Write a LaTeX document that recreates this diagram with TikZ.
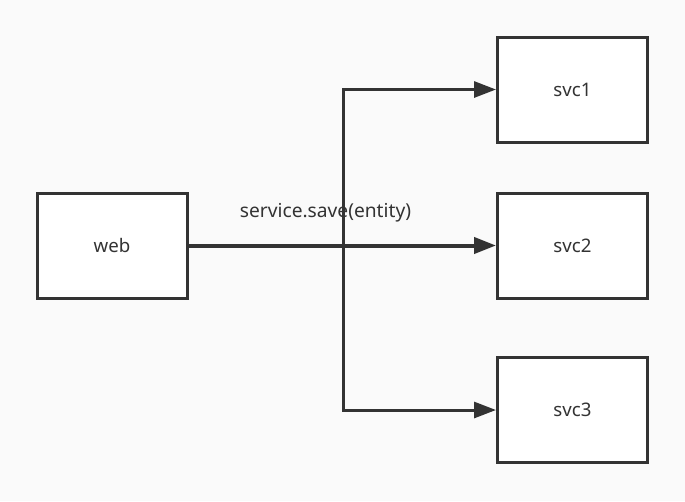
\documentclass[tikz,border=0pt]{standalone}
\usepackage{fontspec}
\setmainfont{Noto Sans}
\usetikzlibrary{arrows.meta}
\definecolor{L}{RGB}{51, 51, 51}
\definecolor{F}{RGB}{250, 250, 250}

\tikzset{
  svcbox/.style={draw=L, fill=white, line width=2.25pt, minimum width=112.5pt,
    minimum height=78.75pt, inner sep=0pt, text=L, font=\fontsize{14}{16}\selectfont},
  flow/.style={draw=L, line width=2.25pt, -{Triangle[length=16.5pt, width=12pt]}}
}

\begin{document}
\begin{tikzpicture}[x=0.75pt, y=-0.75pt]
	% fondo
	\fill[color=F] (0,0) rectangle (685,501);
	\useasboundingbox (0,0) rectangle (685,501);

	% cajas
	\node[svcbox] (web) at (112,245.5) {web};
	\node[svcbox] (svc1) at (572.5,89.5) {svc1};
	\node[svcbox] (svc2) at (572.5,245.5) {svc2};
	\node[svcbox] (svc3) at (572.5,410) {svc3};

	% punto de bifurcacion
	\coordinate (split) at (343,245.5);

	% conexiones
	\draw[flow, line width=3pt] (web.east) -- (svc2.west);
	\draw[flow] (split) |- (svc1.west);
	\draw[flow] (split) |- (svc3.west);

	% etiqueta
	\node[text=L, font=\fontsize{14.4}{16}\selectfont] (call) at (325.5,213) {service.save(entity)};
\end{tikzpicture}
\end{document}
